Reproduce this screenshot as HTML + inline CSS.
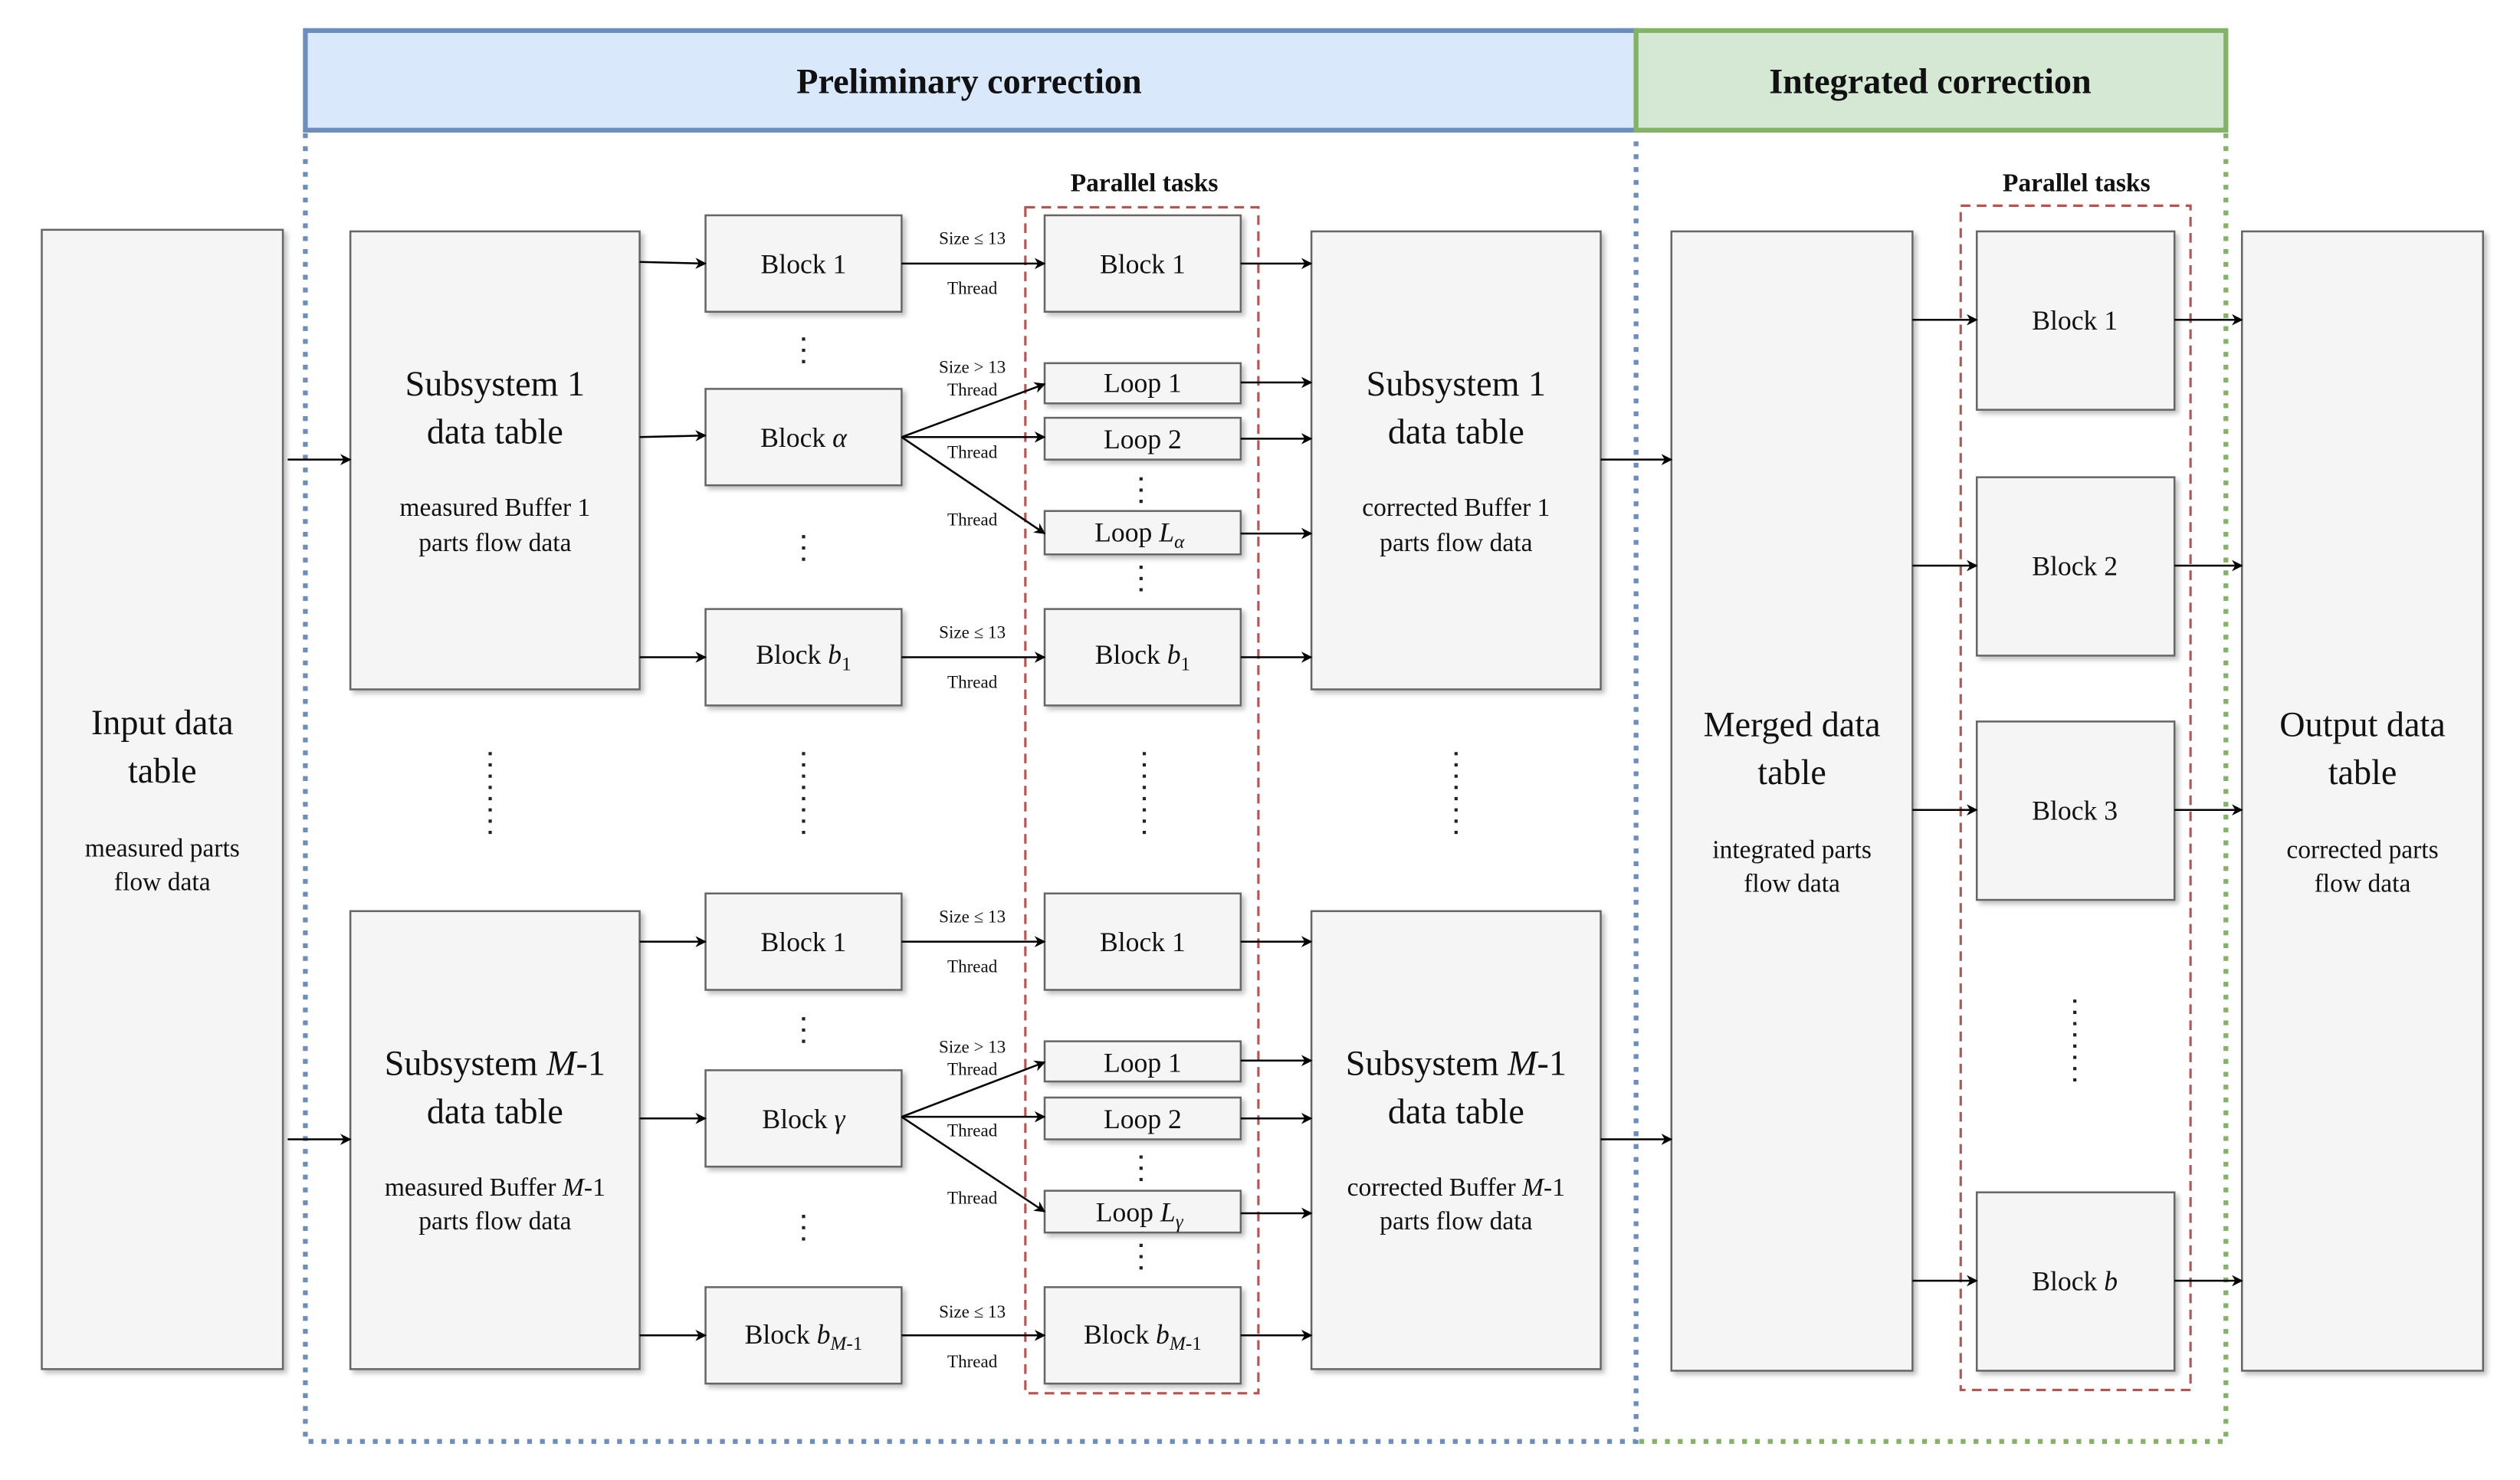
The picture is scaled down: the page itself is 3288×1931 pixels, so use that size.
<!DOCTYPE html>
<html><head><meta charset="utf-8"><style>
html,body{margin:0;padding:0;background:#fff;}
svg{display:block;}
text{font-family:"Liberation Serif",serif;fill:#111;}
</style></head><body>
<svg width="3288" height="1931" viewBox="0 0 1568 921" preserveAspectRatio="none" xmlns="http://www.w3.org/2000/svg">
<defs>
<marker id="a" viewBox="0 0 10 10" refX="9" refY="5" markerWidth="7" markerHeight="7" orient="auto" markerUnits="userSpaceOnUse"><path d="M0,0 L10,5 L0,10 L3,5 z" fill="#000"/></marker>
<filter id="s" x="-10%" y="-10%" width="130%" height="130%"><feDropShadow dx="2" dy="2" stdDeviation="1.5" flood-color="#000" flood-opacity="0.25"/></filter>
</defs>
<rect x="190" y="19" width="828" height="62" fill="#dae8fc" stroke="#6c8ebf" stroke-width="3"/>
<rect x="1018" y="19" width="367" height="62" fill="#d5e8d4" stroke="#82b366" stroke-width="3"/>
<text x="603" y="58" font-size="22" font-weight="bold" text-anchor="middle">Preliminary correction</text>
<text x="1201" y="58" font-size="22" font-weight="bold" text-anchor="middle">Integrated correction</text>
<g fill="none" stroke-width="3" stroke-dasharray="3,5">
<path d="M190,83 V897 H1018 V83" stroke="#6c8ebf"/>
<path d="M1020,897 H1385 V83" stroke="#82b366"/>
</g>
<g fill="none" stroke="#b85450" stroke-width="1.5" stroke-dasharray="6,4">
<rect x="638" y="129" width="145" height="738"/>
<rect x="1220" y="128" width="143" height="737"/>
</g>
<text x="712" y="119" font-size="16" font-weight="bold" text-anchor="middle">Parallel tasks</text>
<text x="1292" y="119" font-size="16" font-weight="bold" text-anchor="middle">Parallel tasks</text>
<g fill="#f5f5f5" stroke="#666" stroke-width="1.2" filter="url(#s)">
<rect x="26" y="143" width="150" height="709"/>
<rect x="218" y="144" width="180" height="285"/>
<rect x="218" y="567" width="180" height="285"/>
<rect x="439" y="134" width="122" height="60"/>
<rect x="439" y="242" width="122" height="60"/>
<rect x="439" y="379" width="122" height="60"/>
<rect x="439" y="556" width="122" height="60"/>
<rect x="439" y="666" width="122" height="60"/>
<rect x="439" y="801" width="122" height="60"/>
<rect x="650" y="134" width="122" height="60"/>
<rect x="650" y="226" width="122" height="25"/>
<rect x="650" y="260" width="122" height="26"/>
<rect x="650" y="318" width="122" height="27"/>
<rect x="650" y="379" width="122" height="60"/>
<rect x="650" y="556" width="122" height="60"/>
<rect x="650" y="648" width="122" height="25"/>
<rect x="650" y="683" width="122" height="26"/>
<rect x="650" y="741" width="122" height="26"/>
<rect x="650" y="801" width="122" height="60"/>
<rect x="816" y="144" width="180" height="285"/>
<rect x="816" y="567" width="180" height="285"/>
<rect x="1040" y="144" width="150" height="709"/>
<rect x="1230" y="144" width="123" height="111"/>
<rect x="1230" y="297" width="123" height="111"/>
<rect x="1230" y="449" width="123" height="111"/>
<rect x="1230" y="742" width="123" height="111"/>
<rect x="1395" y="144" width="150" height="709"/>
</g>
<g stroke="#000" stroke-width="1.2" fill="none" marker-end="url(#a)">
<path d="M179,286 H218"/><path d="M179,709 H218"/>
<path d="M398,163 L439,164"/><path d="M398,272 L439,271"/><path d="M398,409 H439"/>
<path d="M398,586 L439,586"/><path d="M398,696 L439,696"/><path d="M398,831 H439"/>
<path d="M561,164 H650"/><path d="M561,409 H650"/>
<path d="M561,272 L650,239"/><path d="M561,272 H650"/><path d="M561,272 L650,332"/>
<path d="M561,586 H650"/><path d="M561,831 H650"/>
<path d="M561,695 L650,661"/><path d="M561,695 H650"/><path d="M561,695 L650,754"/>
<path d="M772,164 H816"/><path d="M772,238 H816"/><path d="M772,273 H816"/><path d="M772,332 H816"/><path d="M772,409 H816"/>
<path d="M772,586 H816"/><path d="M772,660 H816"/><path d="M772,696 H816"/><path d="M772,755 H816"/><path d="M772,831 H816"/>
<path d="M996,286 H1040"/><path d="M996,709 H1040"/>
<path d="M1190,199 H1230"/><path d="M1190,352 H1230"/><path d="M1190,504 H1230"/><path d="M1190,797 H1230"/>
<path d="M1353,199 H1395"/><path d="M1353,352 H1395"/><path d="M1353,504 H1395"/><path d="M1353,797 H1395"/>
</g>
<g stroke="#222" stroke-width="2" stroke-dasharray="2,5" fill="none">
<path d="M500,210 V228"/><path d="M500,333 V351"/><path d="M710,297 V314"/><path d="M710,352 V369"/>
<path d="M500,633 V651"/><path d="M500,756 V774"/><path d="M710,719 V737"/><path d="M710,774 V792"/>
<path d="M305,468 V522"/><path d="M500,468 V522"/><path d="M712,468 V522"/><path d="M906,468 V522"/><path d="M1291,622 V676"/>
</g>
<g font-size="11" text-anchor="middle">
<text x="605" y="152">Size ≤ 13</text><text x="605" y="183">Thread</text>
<text x="605" y="232">Size &gt; 13</text><text x="605" y="246">Thread</text>
<text x="605" y="285">Thread</text><text x="605" y="327">Thread</text>
<text x="605" y="397">Size ≤ 13</text><text x="605" y="428">Thread</text>
<text x="605" y="574">Size ≤ 13</text><text x="605" y="605">Thread</text>
<text x="605" y="655">Size &gt; 13</text><text x="605" y="669">Thread</text>
<text x="605" y="707">Thread</text><text x="605" y="749">Thread</text>
<text x="605" y="820">Size ≤ 13</text><text x="605" y="851">Thread</text>
</g>
<g font-size="17" text-anchor="middle">
<text x="500" y="170">Block 1</text>
<text x="500" y="278">Block <tspan font-style="italic">α</tspan></text>
<text x="500" y="413">Block <tspan font-style="italic">b</tspan><tspan font-size="12" dy="4">1</tspan></text>
<text x="500" y="592">Block 1</text>
<text x="500" y="702">Block <tspan font-style="italic">γ</tspan></text>
<text x="500" y="836">Block <tspan font-style="italic">b</tspan><tspan font-size="12" dy="4" font-style="italic">M</tspan><tspan font-size="12">-1</tspan></text>
<text x="711" y="170">Block 1</text>
<text x="711" y="244">Loop 1</text>
<text x="711" y="279">Loop 2</text>
<text x="709" y="337">Loop <tspan font-style="italic">L</tspan><tspan font-size="12" dy="4" font-style="italic">α</tspan></text>
<text x="711" y="413">Block <tspan font-style="italic">b</tspan><tspan font-size="12" dy="4">1</tspan></text>
<text x="711" y="592">Block 1</text>
<text x="711" y="667">Loop 1</text>
<text x="711" y="702">Loop 2</text>
<text x="709" y="760">Loop <tspan font-style="italic">L</tspan><tspan font-size="12" dy="4" font-style="italic">γ</tspan></text>
<text x="711" y="836">Block <tspan font-style="italic">b</tspan><tspan font-size="12" dy="4" font-style="italic">M</tspan><tspan font-size="12">-1</tspan></text>
<text x="1291" y="205">Block 1</text>
<text x="1291" y="358">Block 2</text>
<text x="1291" y="510">Block 3</text>
<text x="1291" y="803">Block <tspan font-style="italic">b</tspan></text>
</g>
<g font-size="22" text-anchor="middle">
<text x="101" y="457">Input data</text><text x="101" y="487">table</text>
<text x="308" y="246">Subsystem 1</text><text x="308" y="276">data table</text>
<text x="308" y="669">Subsystem <tspan font-style="italic">M</tspan>-1</text><text x="308" y="699">data table</text>
<text x="906" y="246">Subsystem 1</text><text x="906" y="276">data table</text>
<text x="906" y="669">Subsystem <tspan font-style="italic">M</tspan>-1</text><text x="906" y="699">data table</text>
<text x="1115" y="458">Merged data</text><text x="1115" y="488">table</text>
<text x="1470" y="458">Output data</text><text x="1470" y="488">table</text>
</g>
<g font-size="16" text-anchor="middle">
<text x="101" y="533">measured parts</text><text x="101" y="554">flow data</text>
<text x="308" y="321">measured Buffer 1</text><text x="308" y="343">parts flow data</text>
<text x="308" y="744">measured Buffer <tspan font-style="italic">M</tspan>-1</text><text x="308" y="765">parts flow data</text>
<text x="906" y="321">corrected Buffer 1</text><text x="906" y="343">parts flow data</text>
<text x="906" y="744">corrected Buffer <tspan font-style="italic">M</tspan>-1</text><text x="906" y="765">parts flow data</text>
<text x="1115" y="534">integrated parts</text><text x="1115" y="555">flow data</text>
<text x="1470" y="534">corrected parts</text><text x="1470" y="555">flow data</text>
</g>
</svg>
</body></html>
